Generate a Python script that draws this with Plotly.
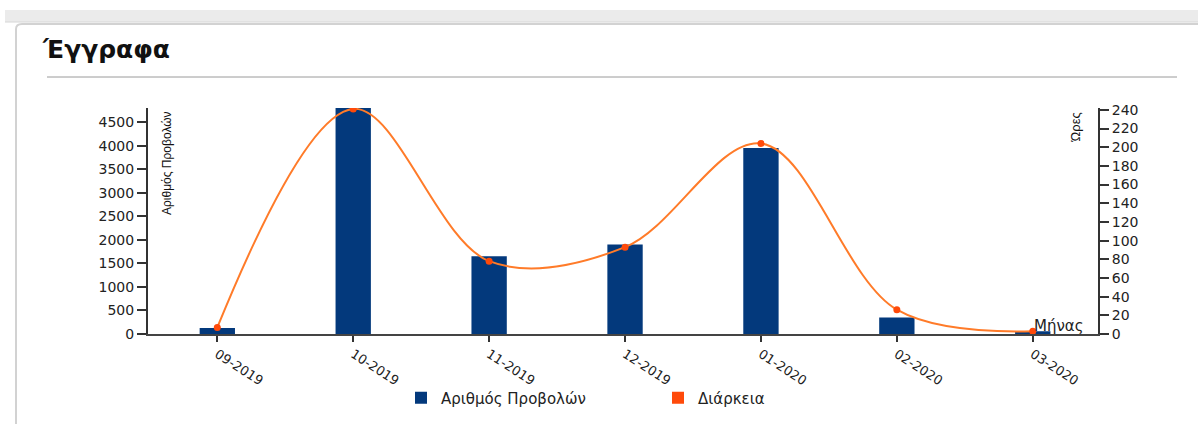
import plotly.graph_objects as go

# Monthly document statistics
months = ["09-2019", "10-2019", "11-2019", "12-2019", "01-2020", "02-2020", "03-2020"]
views = [130, 4800, 1650, 1900, 3950, 350, 60]
hours = [7, 241, 78, 93, 204, 26, 3]

W, H = 1198, 424


def px_x(v):
    return v / W


def px_y(v):
    return 1 - v / H


NAVY = "#03397C"
ORANGE_LINE = "#FF7B29"
ORANGE_DOT = "#FF4A0A"
AXIS = "#333333"
FONT = "DejaVu Sans, Verdana, sans-serif"
NARROW = "Liberation Sans, Arial, sans-serif"

fig = go.Figure()

fig.add_trace(go.Bar(
    x=months, y=views, name="Αριθμός Προβολών",
    marker=dict(color=NAVY, line=dict(width=0)),
    width=0.26, showlegend=False, yaxis="y",
))

fig.add_trace(go.Scatter(
    x=months, y=hours, name="Διάρκεια", mode="lines+markers",
    line=dict(color=ORANGE_LINE, width=2, shape="spline", smoothing=1.0),
    marker=dict(color=ORANGE_DOT, size=7),
    showlegend=False, yaxis="y2",
))

# Legend entries as square swatches
fig.add_trace(go.Scatter(
    x=[None], y=[None], mode="markers", name="Αριθμός Προβολών",
    marker=dict(symbol="square", size=14, color=NAVY),
))
fig.add_trace(go.Scatter(
    x=[None], y=[None], mode="markers", name="Διάρκεια",
    marker=dict(symbol="square", size=14, color=ORANGE_DOT),
))

x_dom = [px_x(148), px_x(1098)]
y_dom = [px_y(334), px_y(108)]

shapes = [
    # top band
    dict(type="rect", xref="paper", yref="paper", x0=px_x(5), x1=1.0,
         y0=px_y(22), y1=px_y(10), fillcolor="#ebebeb", line=dict(width=0), layer="below"),
    dict(type="line", xref="paper", yref="paper", x0=px_x(5), x1=1.0,
         y0=px_y(22), y1=px_y(22), line=dict(color="#d6d6d6", width=1), layer="below"),
    # card border
    dict(type="line", xref="paper", yref="paper", x0=px_x(16), x1=px_x(16),
         y0=0, y1=px_y(29), line=dict(color="#d2d2d2", width=2), layer="below"),
    dict(type="line", xref="paper", yref="paper", x0=px_x(22), x1=1.0,
         y0=px_y(24), y1=px_y(24), line=dict(color="#d2d2d2", width=2), layer="below"),
    dict(type="path", xref="paper", yref="paper",
         path=f"M {px_x(16)},{px_y(29)} Q {px_x(16)},{px_y(24)} {px_x(22)},{px_y(24)}",
         line=dict(color="#d2d2d2", width=2), layer="below"),
    # rule under heading
    dict(type="line", xref="paper", yref="paper", x0=px_x(47), x1=px_x(1177),
         y0=px_y(77), y1=px_y(77), line=dict(color="#9a9a9a", width=1), layer="below"),
]

annotations = [
    dict(text="Έγγραφα", xref="paper", yref="paper", x=px_x(40), y=px_y(49),
         xanchor="left", yanchor="middle", showarrow=False,
         font=dict(family=FONT, size=25, color="#111111", weight="bold")),
    dict(text="Αριθμός Προβολών", xref="paper", yref="paper", x=px_x(158), y=px_y(109),
         xanchor="left", yanchor="top", textangle=-90, showarrow=False,
         font=dict(family=NARROW, size=12, color="#111111")),
    dict(text="Ώρες", xref="paper", yref="paper", x=px_x(1084), y=px_y(111),
         xanchor="right", yanchor="top", textangle=-90, showarrow=False,
         font=dict(family=NARROW, size=13, color="#111111")),
    dict(text="Μήνας", xref="paper", yref="paper", x=px_x(1059), y=px_y(326),
         xanchor="center", yanchor="middle", showarrow=False,
         font=dict(family=FONT, size=15, color="#222222")),
]

tick_font = dict(family=FONT, size=14, color="#222222")

fig.update_layout(
    width=W, height=H, autosize=False,
    margin=dict(l=0, r=0, t=0, b=0, pad=0),
    paper_bgcolor="white", plot_bgcolor="white",
    shapes=shapes, annotations=annotations,
    xaxis=dict(
        domain=x_dom, type="category", range=[-0.51, 6.48], automargin=False,
        showline=True, linecolor="#444444", linewidth=1.5,
        ticks="outside", ticklen=6, tickcolor=AXIS, tickwidth=2,
        tickangle=33, tickfont=dict(family=FONT, size=13, color="#222222"),
        showgrid=False, zeroline=False,
    ),
    yaxis=dict(
        domain=y_dom, range=[0, 4800], dtick=500, tick0=0, automargin=False,
        showline=True, linecolor=AXIS, linewidth=2,
        ticks="outside", ticklen=9, tickcolor=AXIS, tickwidth=1.5,
        tickfont=tick_font, showgrid=False, zeroline=False,
    ),
    yaxis2=dict(
        overlaying="y", side="right", anchor="x", range=[0, 242], dtick=20, tick0=0,
        automargin=False,
        showline=True, linecolor=AXIS, linewidth=2,
        ticks="outside", ticklen=9, tickcolor=AXIS, tickwidth=1.5,
        tickfont=tick_font, showgrid=False, zeroline=False,
    ),
    legend=dict(
        orientation="h", x=px_x(401), y=px_y(398), xanchor="left", yanchor="middle",
        font=dict(family=FONT, size=15, color="#222222"),
        itemsizing="constant", entrywidth=212, entrywidthmode="pixels",
        bgcolor="rgba(0,0,0,0)",
    ),
    bargap=0.2,
)

fig.write_html("out.html")
